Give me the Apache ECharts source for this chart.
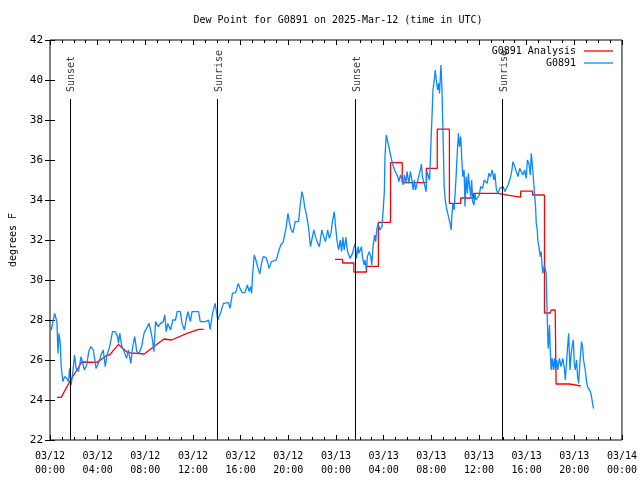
<!DOCTYPE html>
<html><head><meta charset="utf-8">
<script src="https://cdn.jsdelivr.net/npm/echarts@6/dist/echarts.min.js"></script>
<style>html,body{margin:0;padding:0;background:#fff}#c{width:640px;height:480px}</style>
</head><body><div id="c"></div>
<script>
const titleText = 'Dew Point for G0891 on 2025-Mar-12 (time in UTC)';
const xTickLabels = ['03/12\n00:00','03/12\n04:00','03/12\n08:00','03/12\n12:00','03/12\n16:00','03/12\n20:00','03/13\n00:00','03/13\n04:00','03/13\n08:00','03/13\n12:00','03/13\n16:00','03/13\n20:00','03/14\n00:00'];
const sunHours = [1.67, 14.06, 25.6, 37.94];
const sunLabels = ['Sunset', 'Sunrise', 'Sunset', 'Sunrise'];

// Observations (hours since 03/12 00:00 UTC, deg F)
const obsHours = [0.11,0.39,0.58,0.67,0.75,0.86,0.94,1.08,1.23,1.42,1.56,1.64,1.78,1.92,2.06,2.19,2.39,2.61,2.75,2.89,3.08,3.25,3.44,3.64,3.86,4.06,4.28,4.47,4.64,4.78,4.97,5.25,5.47,5.67,5.75,5.86,6.03,6.22,6.42,6.58,6.78,6.92,7.11,7.28,7.47,7.69,7.89,8.31,8.44,8.58,8.72,8.86,9.08,9.28,9.5,9.64,9.75,9.89,10.11,10.31,10.53,10.67,10.94,11.08,11.28,11.42,11.58,11.78,11.92,12.47,12.61,13.08,13.31,13.44,13.64,13.86,13.94,14.08,14.19,14.36,
14.42,14.56,14.97,15.11,15.31,15.58,15.81,15.94,16.14,16.36,16.56,16.72,16.83,16.92,17.0,17.14,17.28,17.42,17.61,17.75,17.89,18.11,18.25,18.39,18.58,18.72,19.0,19.14,19.36,19.56,19.69,19.83,19.97,20.11,20.25,20.39,20.58,20.86,21.0,21.14,21.28,21.36,21.5,21.69,21.86,21.97,22.14,22.28,22.47,22.61,22.81,22.97,23.11,23.31,23.44,23.58,23.72,23.86,23.94,24.08,24.22,24.36,24.47,24.58,24.69,24.83,24.97,25.19,25.39,25.53,25.61,25.72,25.86,25.94,26.14,26.22,26.36,26.44,26.56,26.64,26.78,26.92,27.0,27.11,27.25,27.33,27.42,27.53,27.69,27.86,27.98,28.06,28.11,28.22,28.31,28.44,28.58,28.67,28.78,28.92,29.08,29.19,29.28,29.42,29.56,29.64,29.75,29.86,29.97,30.11,30.25,30.39,30.47,30.58,30.67,30.81,30.94,31.08,31.17,31.25,31.36,31.47,31.56,31.64,31.78,31.86,31.97,32.08,32.14,32.25,32.33,32.42,32.53,32.61,32.69,32.81,32.89,32.97,33.08,33.17,33.31,33.44,33.58,33.67,33.72,33.81,33.92,34.08,34.19,34.28,34.36,34.47,34.56,34.64,34.75,34.83,34.92,35.03,35.11,35.19,35.31,35.39,35.47,35.58,35.67,35.75,35.86,36.03,36.14,36.31,36.44,36.58,36.69,36.83,36.97,37.11,37.25,37.33,37.47,37.61,37.75,37.89,38.03,38.17,38.31,38.44,38.58,38.72,38.86,39.0,39.14,39.28,39.42,39.56,39.69,39.83,39.97,40.06,40.19,40.31,40.39,40.47,40.58,40.67,40.75,40.81,40.89,40.94,41.03,41.14,41.22,41.31,41.36,41.5,41.64,41.72,41.81,41.86,41.92,41.97,42.06,42.14,42.25,42.33,42.42,42.53,42.61,42.75,42.89,43.03,43.17,43.25,43.36,43.44,43.53,43.64,43.72,43.81,43.92,44.0,44.08,44.19,44.28,44.36,44.47,44.61,44.69,44.78,44.92,45.03,45.11,45.31,45.39,45.47,45.58,45.64];
const obsDew = [27.5,28.33,27.9,26.33,27.33,26.83,25.67,24.92,25.17,25.08,24.92,25.58,24.75,25.42,26.25,25.58,25.42,26.17,26.25,25.5,25.75,26.42,26.67,26.5,25.58,25.83,26.25,26.5,25.67,26.25,26.58,27.42,27.42,27.17,26.83,27.33,26.67,26.42,26.08,26.5,25.83,26.58,27.17,26.42,26.33,26.67,27.33,27.83,27.5,27.08,26.42,27.92,27.67,27.83,27.92,28.25,27.42,27.83,27.5,28.0,28.0,28.42,28.42,27.83,27.5,28.0,28.42,27.92,28.42,28.42,27.92,27.92,28.0,27.53,28.33,28.83,28.92,28.0,28.17,28.42,
28.58,28.83,28.87,28.58,29.33,29.37,29.83,29.58,29.37,29.37,29.75,29.42,29.67,29.33,30.25,31.25,31.0,30.67,30.3,30.83,31.17,31.13,30.92,30.58,30.92,31.0,31.0,31.33,31.75,31.88,31.88,32.67,33.33,32.83,32.5,32.37,32.92,32.92,33.75,34.42,34.08,33.67,33.33,32.67,31.67,32.0,32.5,32.17,31.83,31.67,32.5,32.17,31.92,32.5,32.08,32.33,33.0,33.42,32.83,32.0,31.5,32.0,31.42,32.13,31.5,32.13,31.42,31.08,31.33,31.67,31.83,31.08,31.67,31.33,31.67,31.17,30.75,31.0,30.5,31.17,31.42,31.17,30.75,31.67,32.25,31.92,32.5,32.83,32.5,32.67,33.67,34.42,36.17,37.25,37.0,36.67,36.25,36.0,35.75,35.5,35.42,35.17,34.92,35.25,35.0,34.75,35.25,34.83,35.42,34.83,35.42,34.92,34.5,35.0,34.5,34.83,35.17,35.5,35.8,35.17,35.25,34.67,34.42,35.42,35.33,35.0,36.83,38.5,39.5,40.0,40.5,40.0,39.5,39.83,39.33,40.75,39.67,37.67,34.67,34.0,33.5,33.17,32.83,32.5,33.17,33.83,33.5,35.17,36.5,37.33,36.67,37.17,36.0,35.17,35.5,33.67,35.17,34.33,35.33,34.83,34.17,35.0,33.92,33.75,34.33,34.0,34.08,34.25,34.67,34.58,35.0,35.08,34.83,35.33,35.17,35.5,35.0,35.33,34.5,34.33,34.58,34.5,34.67,34.42,34.5,34.75,35.0,35.33,35.92,35.67,35.42,35.17,35.58,35.58,35.25,35.5,35.08,36.0,35.83,35.25,36.33,35.83,35.0,34.25,33.67,32.83,32.5,32.0,31.67,31.17,31.42,30.67,30.33,30.75,30.33,28.33,26.58,27.0,27.75,26.67,25.5,26.08,25.5,26.08,25.5,26.0,25.5,26.08,25.67,26.08,25.58,25.0,26.0,26.67,27.33,25.5,26.17,26.67,27.0,25.83,25.5,26.0,25.17,24.83,25.83,26.92,26.67,26.0,25.5,24.92,24.67,24.47,24.33,24.08,23.67,23.58];

// Analysis, first day (line)
const anaHours1 = [0.58,0.94,1.64,2.67,3.94,4.83,5.0,5.75,6.5,7.9,9.56,10.2,11.5,12.47,12.9];
const anaDew1 = [24.13,24.13,24.9,25.9,25.88,26.25,26.25,26.78,26.37,26.3,27.05,27.0,27.33,27.53,27.53];
// Analysis, second day (stepped: value holds from each time)
const anaHours2 = [23.92,24.56,25.5,26.56,27.56,28.58,29.56,31.58,32.5,33.52,34.47,35.55,37.6,38.52,39.5,40.5,41.5,41.97,42.08,42.4,42.47,43.6,44.55];
const anaDew2 = [31.03,30.85,30.4,30.68,32.88,35.87,34.87,35.58,37.54,33.83,34.1,34.33,34.23,34.14,34.44,34.25,28.35,28.4,28.5,28.58,24.8,24.7,24.7];

const FONT = 'DejaVu Sans Mono';
const RED = '#ff0000', BLUE = '#0a88ff';
const zip = (a, b) => a.map((v, i) => [v, b[i]]);
const lineTop = 39.05, labelBase = 39.4;
const LEGEND_ICON = 'path://M0,0 L29,0 L29,1.3 L0,1.3 Z';

const tickStyle = {inside: true, length: 5, lineStyle: {color: '#000', width: 1}};
const minorStyle = {show: true, splitNumber: 4, length: 3, lineStyle: {color: '#000', width: 1}};

const chart = echarts.init(document.getElementById('c'), null, {renderer: 'canvas'});
chart.setOption({
  animation: false,
  backgroundColor: '#fff',
  title: {text: titleText, left: 333, top: 10, textAlign: 'center',
    textStyle: {fontFamily: FONT, fontSize: 10, fontWeight: 'normal', color: '#000'}},
  grid: {left: 47, right: 17, top: 40, bottom: 40, show: true, borderColor: '#000', borderWidth: 1, backgroundColor: 'transparent'},
  legend: {data: [{name: 'G0891 Analysis', icon: LEGEND_ICON}, {name: 'G0891', icon: LEGEND_ICON}],
    orient: 'vertical', right: 22, top: 41, align: 'right',
    itemWidth: 29, itemHeight: 10, itemGap: 2,
    textStyle: {fontFamily: FONT, fontSize: 10, color: '#000', padding: [0, 3, 0, 0]}},
  xAxis: [
    {type: 'value', position: 'bottom', min: 0, max: 48, interval: 4,
     axisLine: {show: false}, splitLine: {show: false},
     axisTick: tickStyle, minorTick: minorStyle,
     axisLabel: {margin: 9, fontFamily: FONT, fontSize: 10, color: '#000', lineHeight: 14,
       formatter: v => xTickLabels[Math.round(v / 4)] || ''}},
    {type: 'value', position: 'top', min: 0, max: 48, interval: 4,
     axisLine: {show: false}, splitLine: {show: false},
     axisTick: tickStyle, minorTick: minorStyle, axisLabel: {show: false}}
  ],
  yAxis: [
    {type: 'value', position: 'left', min: 22, max: 42, interval: 2,
     name: 'degrees F', nameLocation: 'middle', nameGap: 32,
     nameTextStyle: {fontFamily: FONT, fontSize: 10, color: '#000'},
     axisLine: {show: false}, splitLine: {show: false}, axisTick: tickStyle,
     axisLabel: {margin: 7, fontFamily: FONT, fontSize: 11, color: '#000'}},
    {type: 'value', position: 'right', min: 22, max: 42, interval: 2,
     axisLine: {show: false}, splitLine: {show: false}, axisTick: tickStyle, axisLabel: {show: false}}
  ],
  series: [
    {name: 'sun', type: 'scatter', symbolSize: 0, silent: true,
     data: sunHours.map(t => [t, labelBase]),
     label: {show: true, position: 'inside', rotate: 90, align: 'left', verticalAlign: 'middle',
       offset: [0, 2],
       fontFamily: FONT, fontSize: 10, color: '#000',
       formatter: p => sunLabels[p.dataIndex]},
     markLine: {silent: true, symbol: 'none', label: {show: false},
       lineStyle: {color: '#000', width: 1, type: 'solid'},
       data: sunHours.map(t => [{coord: [t, 22]}, {coord: [t, lineTop]}])}},
    {name: 'G0891 Analysis', type: 'line', color: RED, symbol: 'none', showSymbol: false,
     lineStyle: {width: 1.3, color: RED}, data: zip(anaHours1, anaDew1)},
    {name: 'G0891 Analysis', type: 'line', color: RED, symbol: 'none', showSymbol: false, step: 'end',
     lineStyle: {width: 1.3, color: RED}, data: zip(anaHours2, anaDew2)},
    {name: 'G0891', type: 'line', color: BLUE, symbol: 'none', showSymbol: false,
     lineStyle: {width: 1.3, color: BLUE}, data: zip(obsHours, obsDew)}
  ]
});
</script></body></html>
